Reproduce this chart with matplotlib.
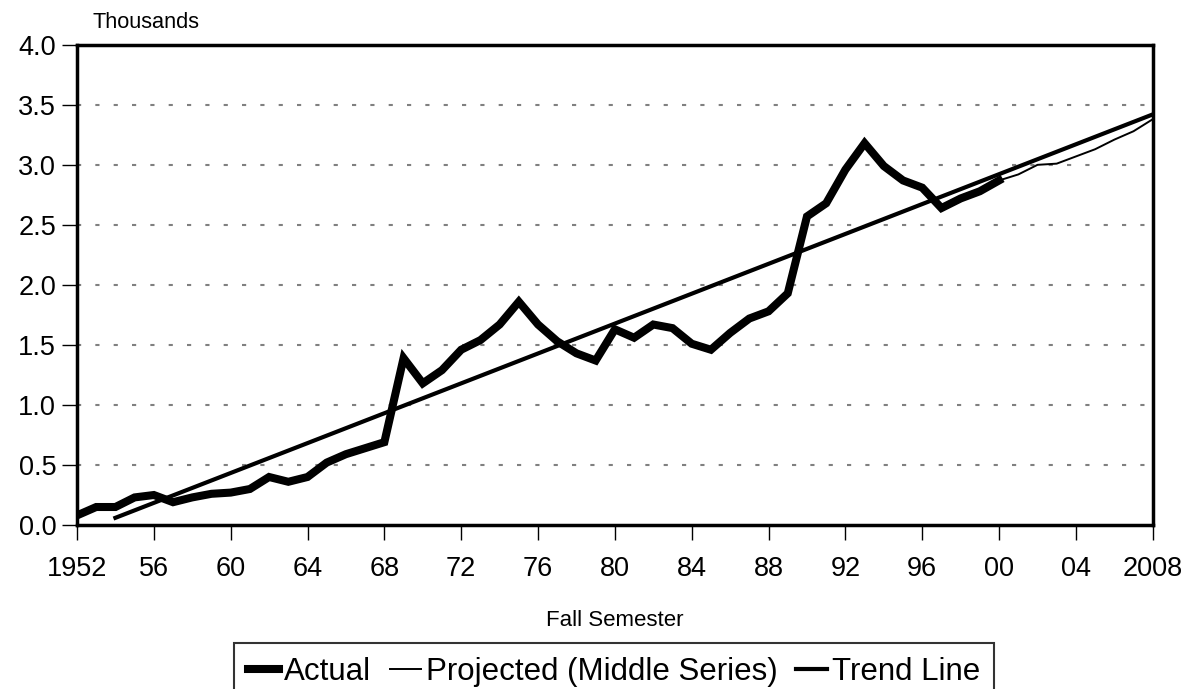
import matplotlib
matplotlib.use("Agg")
import matplotlib.pyplot as plt

plt.rcParams["font.family"] = ["Liberation Sans", "DejaVu Sans"]

# Actual enrollment (thousands), fall semester
actual_years = list(range(1952, 2001))
actual_vals = [0.08, 0.15, 0.15, 0.23, 0.25, 0.19, 0.23, 0.26, 0.27, 0.30,
               0.40, 0.36, 0.40, 0.52, 0.59, 0.64, 0.69, 1.39, 1.18, 1.29,
               1.46, 1.54, 1.67, 1.86, 1.67, 1.53, 1.43, 1.37, 1.63, 1.56,
               1.67, 1.64, 1.51, 1.46, 1.60, 1.72, 1.78, 1.93, 2.57, 2.68,
               2.96, 3.18, 2.99, 2.87, 2.81, 2.64, 2.72, 2.78, 2.87]

# Projected (middle series)
proj_years = list(range(2000, 2009))
proj_vals = [2.87, 2.92, 3.00, 3.01, 3.07, 3.13, 3.21, 3.28, 3.38]

# Trend line end points
trend_years = [1954, 2008]
trend_vals = [0.06, 3.42]

xtick_pos = list(range(1952, 2009, 4))
xtick_lbl = ["1952", "56", "60", "64", "68", "72", "76", "80", "84", "88",
             "92", "96", "00", "04", "2008"]

fig = plt.figure(figsize=(11.9, 6.89), dpi=100)
ax = fig.add_axes([0.0647, 0.238, 0.904, 0.697])

for y in [0.5, 1.0, 1.5, 2.0, 2.5, 3.0, 3.5]:
    ax.axhline(y, color="#808080", lw=1.5, ls=(0, (2, 6.8)), zorder=1)

ax.plot(trend_years, trend_vals, color="black", lw=3.0, label="Trend Line", zorder=3)
ax.plot(proj_years, proj_vals, color="black", lw=1.4,
        label="Projected (Middle Series)", zorder=3)
ax.plot(actual_years, actual_vals, color="black", lw=5.8, label="Actual",
        solid_joinstyle="miter", zorder=4)

ax.set_xlim(1952, 2008)
ax.set_ylim(0, 4.0)
ax.set_yticks([0, 0.5, 1.0, 1.5, 2.0, 2.5, 3.0, 3.5, 4.0])
ax.set_yticklabels(["0.0", "0.5", "1.0", "1.5", "2.0", "2.5", "3.0", "3.5", "4.0"])
ax.set_xticks(xtick_pos)
ax.set_xticklabels(xtick_lbl)
ax.tick_params(axis="both", labelsize=19.5, direction="out", length=11,
               width=1, color="black")
ax.tick_params(axis="y", length=11, pad=4)
ax.tick_params(axis="x", pad=11)
for s in ax.spines.values():
    s.set_linewidth(2.5)
    s.set_color("black")

fig.text(0.078, 0.968, "Thousands", fontsize=15.7, ha="left", va="center")
fig.text(0.517, 0.100, "Fall Semester", fontsize=16, ha="center", va="center")

h, l = ax.get_legend_handles_labels()
order = [2, 1, 0]
leg = fig.legend([h[i] for i in order], [l[i] for i in order], ncol=3,
                 loc="upper center", bbox_to_anchor=(0.516, 0.067),
                 fontsize=22.5, frameon=True, fancybox=False, handlelength=1.0,
                 handletextpad=0.15, columnspacing=0.6, borderpad=0.45,
                 borderaxespad=0)
leg.get_frame().set_edgecolor("black")
leg.get_frame().set_linewidth(1.5)

fig.savefig("out.png", dpi=100)
